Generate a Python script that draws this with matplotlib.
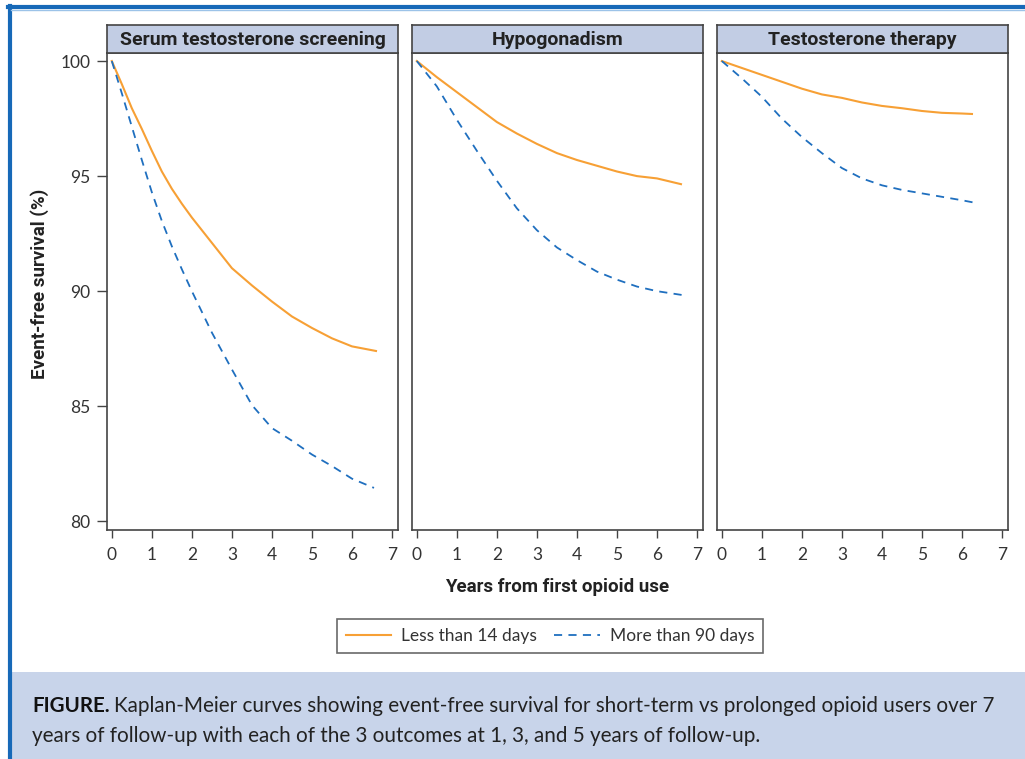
import matplotlib
matplotlib.use("Agg")
import matplotlib.pyplot as plt
from matplotlib.patches import Rectangle
from matplotlib.lines import Line2D

# ---------------- data ----------------
panel_titles = ["Serum testosterone screening", "Hypogonadism", "Testosterone therapy"]
series_labels = ["Less than 14 days", "More than 90 days"]

# Panel 1: Serum testosterone screening
t1_short = [0, 0.25, 0.5, 0.75, 1.0, 1.25, 1.5, 1.75, 2.0, 2.5, 3.0, 3.5, 4.0, 4.5, 5.0, 5.5, 6.0, 6.6]
s1_short = [100, 99.0, 97.95, 97.05, 96.1, 95.2, 94.45, 93.8, 93.2, 92.1, 91.0, 90.25, 89.55, 88.9, 88.4, 87.95, 87.6, 87.4]
t1_long = [0, 0.25, 0.5, 0.75, 1.0, 1.25, 1.5, 1.75, 2.0, 2.5, 3.0, 3.5, 4.0, 4.5, 5.0, 5.5, 6.0, 6.55]
s1_long = [100, 98.6, 97.15, 95.7, 94.3, 93.05, 91.95, 90.95, 90.0, 88.2, 86.6, 85.05, 84.05, 83.5, 82.9, 82.4, 81.85, 81.45]

# Panel 2: Hypogonadism
t2_short = [0, 0.5, 1.0, 1.5, 2.0, 2.5, 3.0, 3.5, 4.0, 4.5, 5.0, 5.5, 6.0, 6.6]
s2_short = [100, 99.3, 98.65, 98.0, 97.35, 96.85, 96.4, 96.0, 95.7, 95.45, 95.2, 95.0, 94.9, 94.65]
t2_long = [0, 0.5, 1.0, 1.5, 2.0, 2.5, 3.0, 3.5, 4.0, 4.5, 5.0, 5.5, 6.0, 6.75]
s2_long = [100, 98.9, 97.45, 96.1, 94.8, 93.6, 92.65, 91.9, 91.35, 90.85, 90.5, 90.2, 90.0, 89.8]

# Panel 3: Testosterone therapy
t3_short = [0, 0.5, 1.0, 1.5, 2.0, 2.5, 3.0, 3.5, 4.0, 4.5, 5.0, 5.5, 6.0, 6.25]
s3_short = [100, 99.7, 99.4, 99.1, 98.8, 98.55, 98.4, 98.2, 98.05, 97.95, 97.83, 97.75, 97.72, 97.7]
t3_long = [0, 0.5, 1.0, 1.5, 2.0, 2.5, 3.0, 3.5, 4.0, 4.5, 5.0, 5.5, 6.0, 6.3]
s3_long = [100, 99.25, 98.45, 97.5, 96.7, 96.0, 95.35, 94.9, 94.6, 94.4, 94.25, 94.1, 93.95, 93.85]

x_ticks = [0, 1, 2, 3, 4, 5, 6, 7]
y_ticks = [80, 85, 90, 95, 100]

panels = [
    (t1_short, s1_short, t1_long, s1_long),
    (t2_short, s2_short, t2_long, s2_long),
    (t3_short, s3_short, t3_long, s3_long),
]

# ---------------- style ----------------
ORANGE = "#f7a035"
BLUE = "#1f6fbf"
SPINE = "#444444"
HEADER_BG = "#c2cde4"
CAPTION_BG = "#c8d4ea"
FRAME_BLUE = "#1769b8"
LIGHT = ["Lato", "DejaVu Sans"]
COND = ["Roboto", "DejaVu Sans"]

W, H = 1025, 759
fig = plt.figure(figsize=(W / 100, H / 100), dpi=100)
fig.patch.set_facecolor("white")


def fx(px):
    return px / W


def fy(py):
    return 1 - py / H


# frame and caption background
fig.patches.append(Rectangle((fx(11), fy(759)), fx(1025 - 11), (759 - 672) / H,
                             transform=fig.transFigure, facecolor=CAPTION_BG, edgecolor="none", zorder=0))
fig.add_artist(Line2D([fx(9.5), fx(9.5)], [fy(6), fy(759)], color=FRAME_BLUE, lw=3.0, transform=fig.transFigure))
fig.add_artist(Line2D([fx(8), fx(1025)], [fy(6.5), fy(6.5)], color=FRAME_BLUE, lw=3.0, transform=fig.transFigure))
fig.add_artist(Line2D([fx(11), fx(1025)], [fy(9.5), fy(9.5)], color="#9cc3e8", lw=1.0, transform=fig.transFigure))

lefts = [107, 412, 717]
pw = 291
top, bottom, htop = 53, 530, 25

axes = []
for i, (ts, ss, tl, sl) in enumerate(panels):
    L = lefts[i]
    ax = fig.add_axes([fx(L), fy(bottom), pw / W, (bottom - top) / H])
    ax.plot(ts, ss, color=ORANGE, lw=1.5, label=series_labels[0])
    ax.plot(tl, sl, color=BLUE, lw=1.3, ls=(0, (4.5, 3.5)), label=series_labels[1])
    ax.set_xlim(-0.12, 7.15)
    ax.set_ylim(79.62, 100.35)
    ax.set_xticks(x_ticks)
    ax.set_xticklabels([str(v) for v in x_ticks], fontfamily=LIGHT)
    ax.tick_params(axis="x", direction="out", length=6, width=1, color=SPINE,
                   labelsize=12.5, labelcolor="#333333", pad=6)
    if i == 0:
        ax.set_yticks(y_ticks)
        ax.set_yticklabels([str(v) for v in y_ticks], fontfamily=LIGHT)
        ax.tick_params(axis="y", direction="out", length=7, width=1, color=SPINE,
                       labelsize=12.5, labelcolor="#333333", pad=5)
    else:
        ax.set_yticks([])
    for sp in ax.spines.values():
        sp.set_color(SPINE)
        sp.set_linewidth(1.2)
    axes.append(ax)

    hax = fig.add_axes([fx(L), fy(top), pw / W, (top - htop) / H])
    hax.set_facecolor(HEADER_BG)
    hax.set_xticks([])
    hax.set_yticks([])
    for sp in hax.spines.values():
        sp.set_color(SPINE)
        sp.set_linewidth(1.2)
    hax.text(0.5, 0.47, panel_titles[i], ha="center", va="center", fontsize=14,
             fontweight="bold", fontfamily=COND, color="#222222", transform=hax.transAxes)

fig.text(fx(40), fy(284), "Event-free survival (%)", rotation=90, ha="center", va="center",
         fontsize=13.5, fontweight="bold", fontfamily=COND, color="#222222")
fig.text(fx(557), fy(587), "Years from first opioid use", ha="center", va="center",
         fontsize=13.5, fontweight="bold", fontfamily=COND, color="#222222")

handles, labels = axes[0].get_legend_handles_labels()
leg = fig.legend(handles, labels, loc="center", bbox_to_anchor=(fx(550), fy(636)), ncol=2,
                 frameon=True, fancybox=False, edgecolor=SPINE, handlelength=2.6,
                 columnspacing=1.0, handletextpad=0.6, borderpad=0.5,
                 prop={"family": LIGHT, "size": 12.5})
leg.get_frame().set_linewidth(1.2)
for t in leg.get_texts():
    t.set_color("#333333")

# caption
cap_size = 14.9
t_bold = fig.text(fx(32), fy(712), "FIGURE.", ha="left", va="baseline", fontsize=cap_size,
                  fontweight="bold", fontfamily=LIGHT, color="#111111")
fig.canvas.draw()
bb = t_bold.get_window_extent(renderer=fig.canvas.get_renderer())
fig.text(bb.x1 / W + fx(4), fy(712),
         "Kaplan-Meier curves showing event-free survival for short-term vs prolonged opioid users over 7",
         ha="left", va="baseline", fontsize=cap_size, fontfamily=LIGHT, color="#222222")
fig.text(fx(32), fy(742), "years of follow-up with each of the 3 outcomes at 1, 3, and 5 years of follow-up.",
         ha="left", va="baseline", fontsize=cap_size, fontfamily=LIGHT, color="#222222")

fig.savefig("out.png", dpi=100)
